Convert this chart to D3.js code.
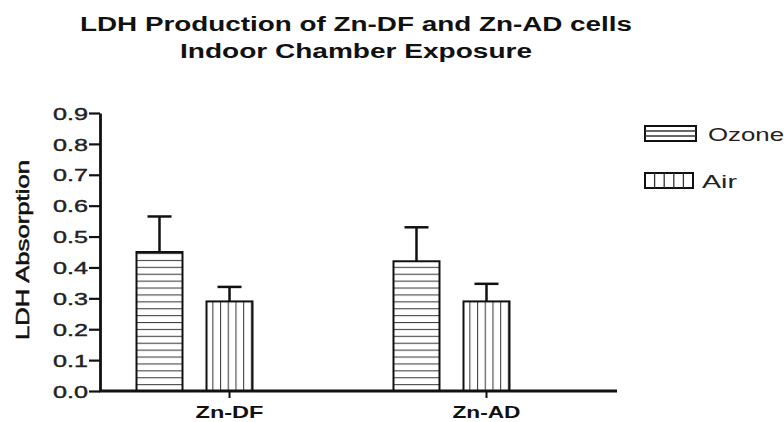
<!DOCTYPE html>
<html>
<head>
<meta charset="utf-8">
<script src="https://cdn.jsdelivr.net/npm/d3@7"></script>
<style>
body { margin: 0; background: #fff; }
svg { display: block; font-family: "Liberation Sans", Arial, sans-serif; }
</style>
</head>
<body>
<svg width="784" height="422"></svg>
<script>
// data
var categories = ["Zn-DF", "Zn-AD"];
var series = ["Ozone", "Air"];
var means = { "Ozone": [0.45, 0.42], "Air": [0.29, 0.29] };
var errors = { "Ozone": [0.115, 0.11], "Air": [0.047, 0.057] };
var yTicks = [0, 0.1, 0.2, 0.3, 0.4, 0.5, 0.6, 0.7, 0.8, 0.9];
var titleLines = ["LDH Production of Zn-DF and Zn-AD cells", "Indoor Chamber Exposure"];

var svg = d3.select("svg");

var x0 = d3.scaleBand().domain(categories).range([136.5, 509.5]).paddingInner(0.5486).paddingOuter(0);
var x1 = d3.scaleBand().domain(series).range([0, x0.bandwidth()]).paddingInner(0.343);
var y = d3.scaleLinear().domain([0, 0.9]).range([391, 113]);

// hatch patterns
var defs = svg.append("defs");
var ph = defs.append("pattern").attr("id", "hz").attr("patternUnits", "userSpaceOnUse")
	.attr("width", 10).attr("height", 6.9).attr("y", y(0));
ph.append("rect").attr("width", 10).attr("height", 6.9).attr("fill", "#fff");
ph.append("line").attr("x1", 0).attr("x2", 10).attr("y1", 0.5).attr("y2", 0.5)
	.attr("stroke", "#444").attr("stroke-width", 1.2);
var pv = defs.append("pattern").attr("id", "vt").attr("patternUnits", "userSpaceOnUse")
	.attr("width", 7.7).attr("height", 10).attr("x", 206);
pv.append("rect").attr("width", 7.7).attr("height", 10).attr("fill", "#fff");
pv.append("line").attr("x1", 0.5).attr("x2", 0.5).attr("y1", 0).attr("y2", 10)
	.attr("stroke", "#444").attr("stroke-width", 1.2);
var fills = { "Ozone": "url(#hz)", "Air": "url(#vt)" };

// title
svg.selectAll(".title").data(titleLines).enter().append("text")
	.attr("class", "title")
	.attr("x", 356).attr("y", (d, i) => i == 0 ? 31 : 58)
	.attr("text-anchor", "middle")
	.attr("font-size", 20).attr("font-weight", "bold").attr("fill", "#111")
	.attr("textLength", (d, i) => i == 0 ? 552 : 352)
	.attr("lengthAdjust", "spacingAndGlyphs")
	.text(d => d);

// bars
var rows = [];
categories.forEach((c, i) => {
	series.forEach(s => rows.push({ cat: c, ser: s, v: means[s][i], e: errors[s][i] }));
});

var g = svg.append("g");
var bars = g.selectAll(".bar").data(rows).enter().append("g").attr("class", "bar")
	.attr("transform", d => "translate(" + (x0(d.cat) + x1(d.ser)) + ",0)");

bars.append("line")
	.attr("x1", x1.bandwidth() / 2).attr("x2", x1.bandwidth() / 2)
	.attr("y1", d => y(d.v)).attr("y2", d => y(d.v + d.e))
	.attr("stroke", "#111").attr("stroke-width", 2.5);
bars.append("line")
	.attr("x1", x1.bandwidth() / 2 - 12).attr("x2", x1.bandwidth() / 2 + 12)
	.attr("y1", d => y(d.v + d.e)).attr("y2", d => y(d.v + d.e))
	.attr("stroke", "#111").attr("stroke-width", 2.5);
bars.append("rect")
	.attr("x", 0).attr("width", x1.bandwidth())
	.attr("y", d => y(d.v)).attr("height", d => y(0) - y(d.v))
	.attr("fill", d => fills[d.ser])
	.attr("stroke", "#111").attr("stroke-width", 2);

// y axis
var yAxis = svg.append("g").attr("transform", "translate(100,0)")
	.call(d3.axisLeft(y).tickValues(yTicks).tickFormat(d3.format(".1f")).tickSize(11).tickSizeOuter(0));
yAxis.select(".domain").attr("stroke", "#111").attr("stroke-width", 2.8);
yAxis.selectAll(".tick line").attr("stroke", "#111").attr("stroke-width", 2.2);
yAxis.selectAll(".tick text")
	.attr("x", -12).attr("dy", "0.36em")
	.attr("font-size", 17).attr("fill", "#222")
	.attr("stroke", "#222").attr("stroke-width", 0.4)
	.attr("font-family", "Liberation Sans, Arial, sans-serif")
	.attr("textLength", 35).attr("lengthAdjust", "spacingAndGlyphs");

// x axis
svg.append("line").attr("x1", 99).attr("x2", 617).attr("y1", y(0)).attr("y2", y(0))
	.attr("stroke", "#111").attr("stroke-width", 3);
var tickX = categories.map(c => x0(c) + x1("Air") + x1.bandwidth() / 2);
svg.selectAll(".xtick").data(tickX).enter().append("line")
	.attr("x1", d => d).attr("x2", d => d)
	.attr("y1", y(0)).attr("y2", y(0) + 7)
	.attr("stroke", "#111").attr("stroke-width", 2);
svg.selectAll(".xlab").data(categories).enter().append("text")
	.attr("x", (d, i) => tickX[i]).attr("y", 418)
	.attr("text-anchor", "middle")
	.attr("font-size", 17).attr("font-weight", "bold").attr("fill", "#111")
	.attr("textLength", 68).attr("lengthAdjust", "spacingAndGlyphs")
	.text(d => d);

// y axis title
svg.append("text")
	.attr("transform", "translate(29,250) rotate(-90)")
	.attr("text-anchor", "middle")
	.attr("font-size", 18).attr("fill", "#111")
	.attr("stroke", "#111").attr("stroke-width", 0.5)
	.attr("textLength", 180).attr("lengthAdjust", "spacingAndGlyphs")
	.text("LDH Absorption");

// legend
var legend = svg.append("g");
var leg = legend.selectAll(".leg").data(series).enter().append("g")
	.attr("transform", (d, i) => "translate(645," + (126 + i * 47) + ")");
leg.append("rect").attr("width", (d, i) => i == 0 ? 51 : 48).attr("height", 15)
	.attr("fill", "#fff").attr("stroke", "#111").attr("stroke-width", 2);
leg.filter((d, i) => i == 0).selectAll(".hl").data([5, 10]).enter().append("line")
	.attr("x1", 0).attr("x2", 51).attr("y1", d => d).attr("y2", d => d)
	.attr("stroke", "#333").attr("stroke-width", 1.3);
leg.filter((d, i) => i == 1).selectAll(".vl").data([9.6, 19.2, 28.8, 38.4]).enter().append("line")
	.attr("x1", d => d).attr("x2", d => d).attr("y1", 0).attr("y2", 15)
	.attr("stroke", "#333").attr("stroke-width", 1.3);
leg.append("text")
	.attr("x", (d, i) => i == 0 ? 63 : 57).attr("y", 15)
	.attr("font-size", 19).attr("fill", "#222")
	.attr("textLength", (d, i) => i == 0 ? 76 : 35).attr("lengthAdjust", "spacingAndGlyphs")
	.text(d => d);
</script>
</body>
</html>
